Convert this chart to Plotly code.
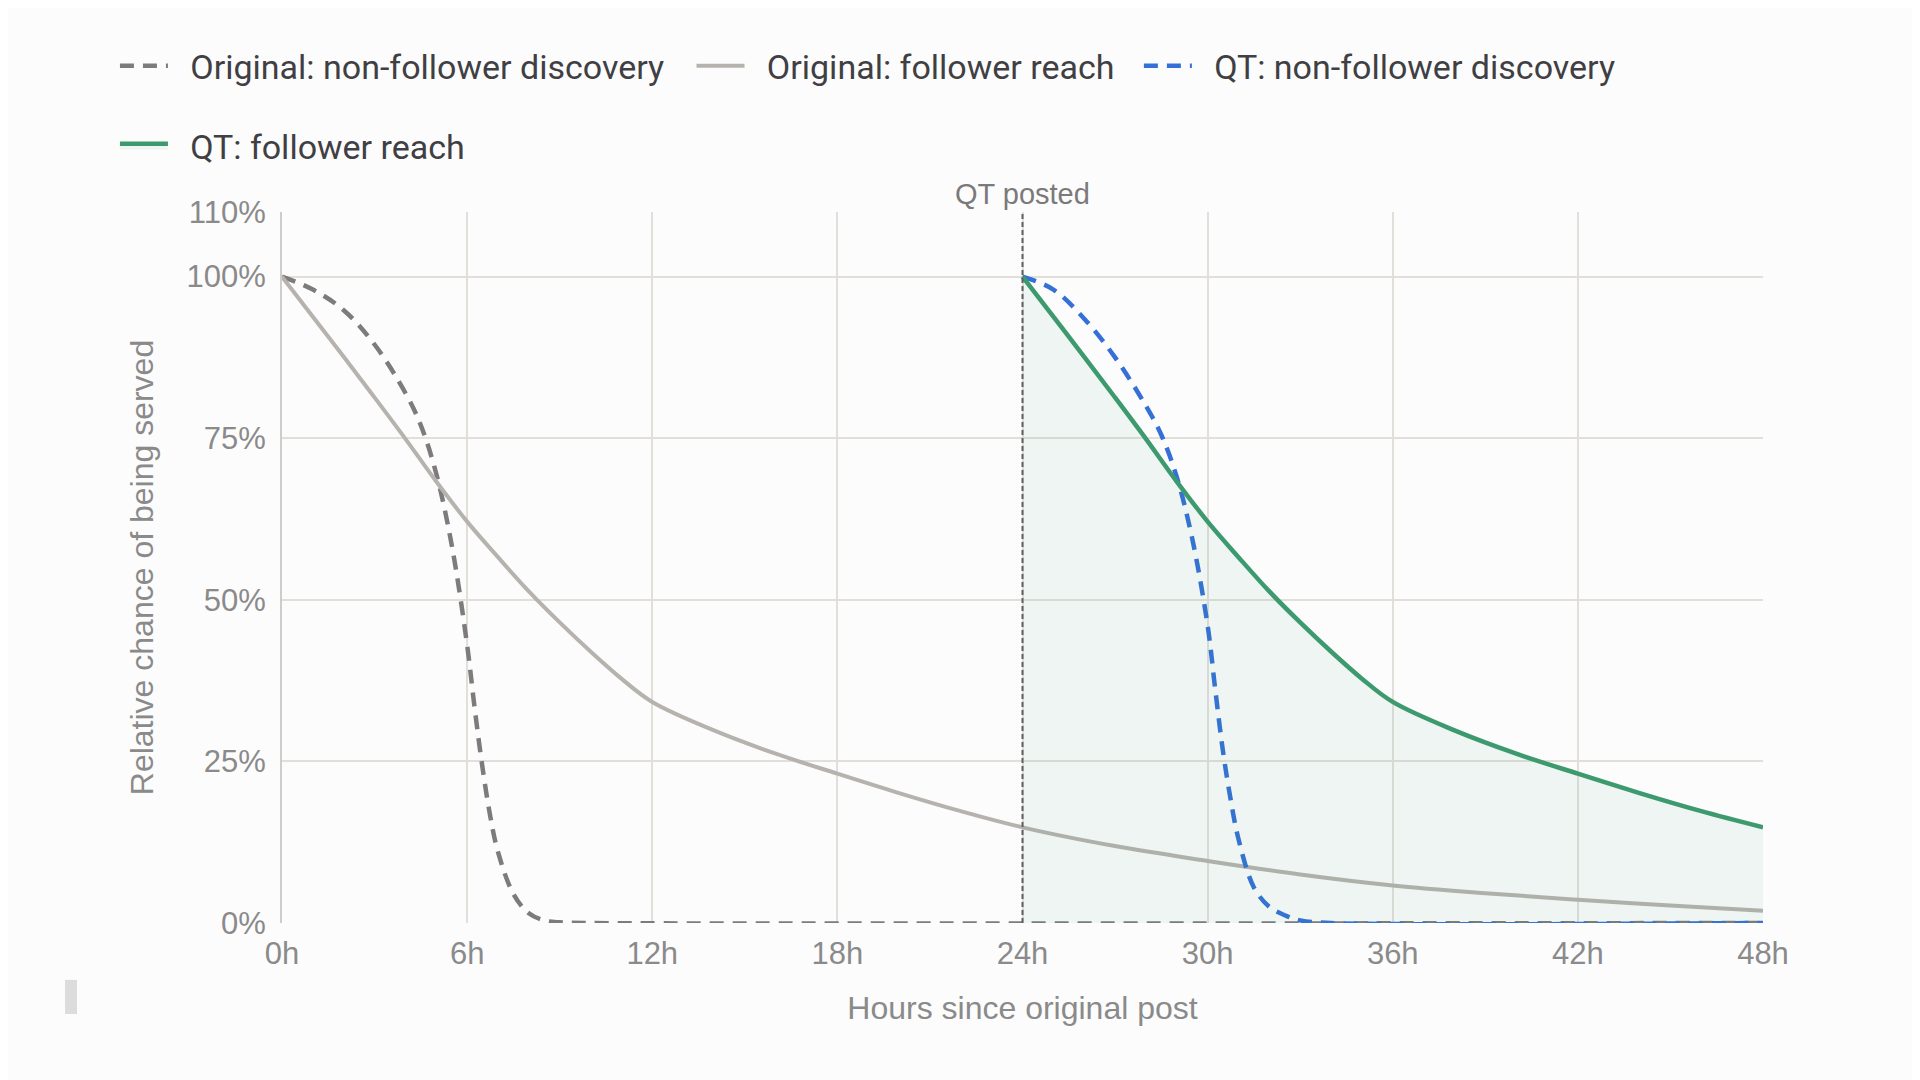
import plotly.graph_objects as go

# hours since original post / relative chance (%)
orig_nf_hours = [0, 1, 2, 3, 4, 4.5, 5, 5.5, 6, 6.25, 6.5, 6.75, 7, 7.5, 8, 8.5, 9, 10, 48]
orig_nf_values = [100, 98, 94.8, 89.5, 82, 77, 69.5, 58.5, 43, 33, 24, 16.5, 11, 4.5, 1.5, 0.4, 0.1, 0, 0]

orig_f_hours = [0, 1, 2, 3, 4, 5, 6, 7, 8, 9, 10, 11, 12, 14, 16, 18, 20, 22, 24,
                27, 30, 33, 36, 39, 42, 45, 48]
orig_f_values = [100, 93.8, 87.6, 81.3, 74.9, 68.3, 62.1, 56.6, 51.3, 46.5, 42, 37.8, 34.2,
                 29.8, 26.2, 23.1, 20.1, 17.3, 14.8, 11.9, 9.6, 7.5, 5.8, 4.6, 3.6, 2.7, 1.9]

qt_nf_hours = [24, 25, 26, 27, 28, 28.5, 29, 29.5, 30, 30.25, 30.5, 30.75, 31, 31.5,
               32, 32.5, 33, 34, 48]
qt_nf_values = [100, 98, 93.5, 87.5, 80, 75.5, 69, 59.5, 46, 36, 26.5, 19, 13, 5.5,
                2.5, 1.2, 0.4, 0, 0]

qt_f_hours = [24, 25, 26, 27, 28, 29, 30, 31, 32, 33, 34, 35, 36, 38, 40, 42, 44, 46, 48]
qt_f_values = [100, 93.8, 87.6, 81.3, 74.9, 68.3, 62.1, 56.6, 51.3, 46.5, 42, 37.8, 34.2,
               29.8, 26.2, 23.1, 20.1, 17.3, 14.8]

qt_posted_hour = 24

x_ticks = [0, 6, 12, 18, 24, 30, 36, 42, 48]
x_labels = ["0h", "6h", "12h", "18h", "24h", "30h", "36h", "42h", "48h"]
y_ticks = [0, 25, 50, 75, 100, 110]
y_labels = ["0%", "25%", "50%", "75%", "100%", "110%"]

BG = "#fdfcfd"
GRID = "#e2dfdb"
TICK = "#8a8a8a"
SANS = "Liberation Sans, Arial"
PAD = "\u2002"  # a bit of room between legend line and label

fig = go.Figure()

fig.add_trace(go.Scatter(
    x=orig_nf_hours, y=orig_nf_values, mode="lines", line_shape="spline",
    name=PAD + "Original: non-follower discovery",
    line=dict(color="#7d7b7b", width=4.5, dash="14px,9px"),
    legend="legend", showlegend=True,
))
fig.add_trace(go.Scatter(
    x=orig_f_hours, y=orig_f_values, mode="lines", line_shape="spline",
    name=PAD + "Original: follower reach",
    line=dict(color="#b6b3ae", width=4),
    legend="legend2", showlegend=True,
))
fig.add_trace(go.Scatter(
    x=qt_nf_hours, y=qt_nf_values, mode="lines", line_shape="spline",
    name=PAD + "QT: non-follower discovery",
    line=dict(color="#3570d8", width=4.5, dash="14px,9px"),
    legend="legend3", showlegend=True,
))
fig.add_trace(go.Scatter(
    x=qt_f_hours, y=qt_f_values, mode="lines", line_shape="spline",
    name=PAD + "QT: follower reach",
    line=dict(color="#3d9a6e", width=4.5),
    fill="tozeroy", fillcolor="rgba(61,154,110,0.07)",
    legend="legend4", showlegend=True,
))

# QT posted marker line
fig.add_shape(type="line", x0=qt_posted_hour, x1=qt_posted_hour, y0=0, y1=110,
              xref="x", yref="y", line=dict(color="#5f5f5f", width=2, dash="5px,3px"),
              layer="above")
fig.add_annotation(x=qt_posted_hour, y=1, xref="x", yref="paper", text="QT posted",
                   showarrow=False, yanchor="bottom", yshift=0,
                   font=dict(family=SANS, size=29, color="#7a7a7a"))

# small grey handle at bottom left
fig.add_shape(type="rect", xref="paper", yref="paper", x0=-0.1465, x1=-0.1384,
              y0=-0.128, y1=-0.080, line=dict(width=0), fillcolor="#dcdcdc")


def legend_box(x, y):
    return dict(
        orientation="h", xref="container", yref="container",
        x=x, y=y, xanchor="left", yanchor="top",
        font=dict(family="Roboto", size=34, color="#3f3f44"),
        bgcolor="rgba(0,0,0,0)", itemwidth=48,
    )


fig.update_layout(
    width=1920, height=1080,
    paper_bgcolor=BG, plot_bgcolor=BG,
    margin=dict(l=274, r=165, t=204, b=165),
    font=dict(family=SANS, color=TICK),
    showlegend=True,
    legend=legend_box(0.0557, 0.973),
    legend2=legend_box(0.356, 0.973),
    legend3=legend_box(0.589, 0.973),
    legend4=legend_box(0.0557, 0.899),
    xaxis=dict(
        range=[0, 48], tickvals=x_ticks, ticktext=x_labels,
        showgrid=True, gridcolor=GRID, gridwidth=2,
        zeroline=False, showline=False,
        ticks="outside", ticklen=3, tickcolor=BG,
        tickfont=dict(size=31, color=TICK),
        title=dict(text="Hours since original post", standoff=26,
                   font=dict(size=32, color=TICK)),
    ),
    yaxis=dict(
        range=[0, 110], tickvals=y_ticks, ticktext=y_labels,
        showgrid=True, gridcolor=GRID, gridwidth=2,
        zeroline=False, showline=True, linecolor="#cfcdca", linewidth=2,
        ticks="outside", ticklen=8, tickcolor=BG,
        tickfont=dict(size=31, color=TICK),
        title=dict(text="Relative chance of being served", standoff=23,
                   font=dict(size=32, color=TICK)),
    ),
)

fig.write_html("out.html")
